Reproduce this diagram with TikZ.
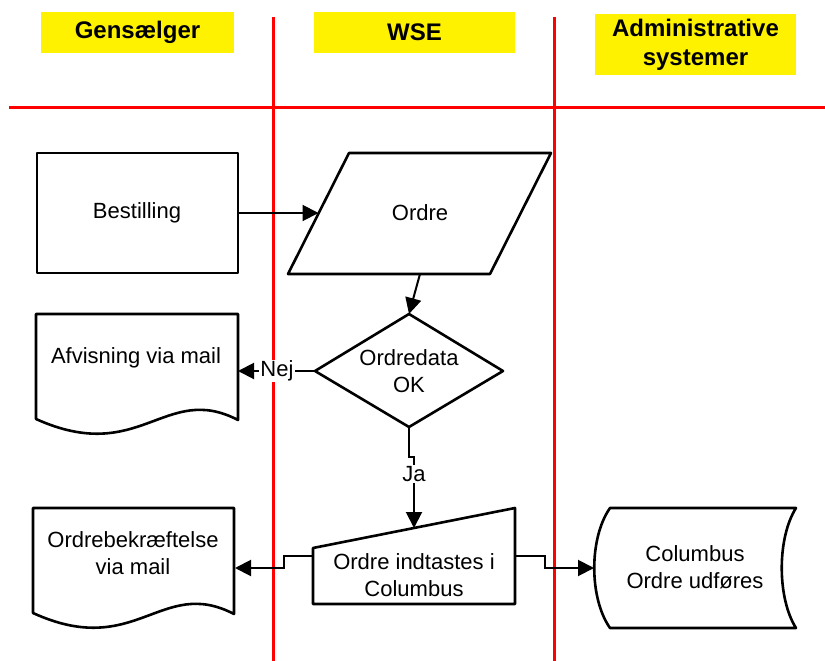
\documentclass[tikz,border=0pt]{standalone}
\usepackage{fontspec}
\setmainfont{Liberation Sans}
\usetikzlibrary{arrows.meta}
\begin{document}
\begin{tikzpicture}[x=1pt,y=-1pt,
  lane/.style={draw=red,line width=3pt},
  hdr/.style={fill=yellow,inner sep=0pt,align=center,font=\fontsize{24}{29}\selectfont\bfseries},
  shp/.style={draw=black,line width=2.6pt,line join=round,fill=white},
  txt/.style={align=center,font=\fontsize{22}{27}\selectfont,inner sep=0pt},
  conn/.style={draw=black,line width=2pt,-{Triangle[length=16pt,width=16pt]}},
  lbl/.style={fill=white,inner sep=1pt,font=\fontsize{22}{26}\selectfont}
]
\useasboundingbox (0,0) rectangle (825,661);
% swimlane lines
\draw[lane] (273,17) -- (273,661);
\draw[lane] (554,17) -- (554,661);
\draw[lane] (9,107) -- (825,107);
% headers
\node[hdr,minimum width=193pt,minimum height=41pt] (h1) at (137.5,32.5) {Gensælger};
\node[hdr,minimum width=201pt,minimum height=41pt] (h2) at (414.5,32.5) {WSE};
\node[hdr,minimum width=201pt,minimum height=61pt] (h3) at (695.5,44.5) {Administrative\\systemer};
% shapes
\draw[shp] (37,153) rectangle (238,273);
\draw[shp] (349,153) -- (551,153) -- (490,274) -- (288,274) -- cycle;
\draw[shp] (315,371) -- (409,314) -- (503,371) -- (409,427) -- cycle;
\draw[shp] (36,314) -- (238,314) -- (238,420) .. controls (165,382) and (140,466) .. (36,419) -- cycle;
\draw[shp] (33,508) -- (234,508) -- (234,614) .. controls (161,576) and (136,660) .. (33,613) -- cycle;
\draw[shp] (313,548) -- (515,508) -- (515,604) -- (313,604) -- cycle;
\draw[shp] (610,508) -- (796,508) .. controls (777,538) and (777,598) .. (796,628) -- (610,628) .. controls (589,598) and (589,538) .. (610,508) -- cycle;
% texts
\node[txt] (best) at (137,213) {Bestilling};
\node[txt] (ordre) at (420,213) {Ordre};
\node[txt] (dia) at (409,371) {Ordredata\\OK};
\node[txt] (afv) at (136,358) {Afvisning via mail};
\node[txt] (bekr) at (133,553) {Ordrebekræftelse\\via mail};
\node[txt] (man) at (414,575) {Ordre indtastes i\\Columbus};
\node[txt] (col) at (695,567) {Columbus\\Ordre udføres};
% connector endpoints
\coordinate (bestE) at (238,213);
\coordinate (ordW) at (318.5,213);
\coordinate (ordS) at (420,274);
\coordinate (diaN) at (409,314);
\coordinate (diaW) at (315,371);
\coordinate (diaS) at (409,427);
\coordinate (afvE) at (238,371);
\coordinate (manN) at (414,528);
\coordinate (manW) at (313,556);
\coordinate (manE) at (515,556);
\coordinate (bekrE) at (235,568);
\coordinate (colW) at (594,568);
% connectors
\draw[conn] (bestE) -- (ordW);
\draw[conn] (ordS) -- (diaN);
\draw[conn] (diaW) -- (afvE);
\node[lbl] (nej) at (277,371) {Nej};
\draw[conn] (diaS) -- (409,457) -- (414,457) -- (manN);
\node[lbl] (ja) at (414,474) {Ja};
\draw[conn] (manW) -- (284,556) -- (284,568) -- (bekrE);
\draw[conn] (manE) -- (545,556) -- (545,568) -- (colW);
\end{tikzpicture}
\end{document}
